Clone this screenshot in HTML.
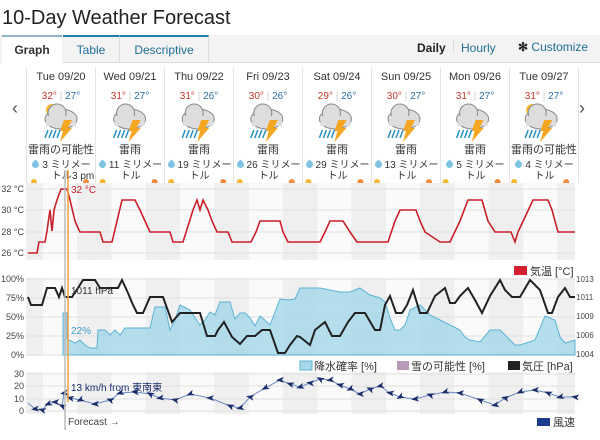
<!DOCTYPE html>
<html><head><meta charset="utf-8"><style>
body{margin:0;width:600px;height:440px;overflow:hidden;background:#fff;font-family:"Liberation Sans","Noto Sans CJK JP",sans-serif;position:relative}
.a{position:absolute}
.col{position:absolute;top:68px;width:68px;height:115px;border-left:1px solid #e4e4e4;text-align:center;font-size:11px;color:#333}
.col .d{margin-top:3px;height:16px}
.col .t{margin-top:4px;font-size:10px}
.hi{color:#c0392b}.lo{color:#2b6ea0}
.col .lb{font-size:11px;position:absolute;top:73px;width:68px;left:0}
.col .pr{font-size:10px;position:absolute;top:92px;left:1px;width:67px;line-height:11px;text-align:center;word-break:break-all}
.drop{display:inline-block;width:7px;height:7px;background:#7ec4e0;border-radius:0 50% 50% 50%;transform:rotate(45deg);margin-right:3px}
</style></head><body>
<div class="a" style="left:2px;top:7px;font-size:20px;color:#222">10-Day Weather Forecast</div>
<div class="a" style="left:0;top:35px;width:600px;height:27px;background:#f3f3f3;border-bottom:1px solid #ddd"></div>
<div class="a" style="left:2px;top:35px;width:60px;height:28px;background:#fff;border-top:2px solid #8fb7c9;font-size:12px;font-weight:bold;color:#333;text-align:center;line-height:26px">Graph</div>
<div class="a" style="left:63px;top:35px;width:56px;height:26px;border-top:2px solid #1f7fa8;font-size:12px;color:#1f6e93;text-align:center;line-height:26px;border-right:1px solid #ddd">Table</div>
<div class="a" style="left:120px;top:35px;width:88px;height:26px;border-top:2px solid #1f7fa8;font-size:12px;color:#1f6e93;text-align:center;line-height:26px;border-right:1px solid #ddd">Descriptive</div>
<div class="a" style="left:417px;top:41px;font-size:12px;font-weight:bold;color:#222">Daily</div>
<div class="a" style="left:453px;top:40px;width:1px;height:14px;background:#ddd"></div>
<div class="a" style="left:461px;top:41px;font-size:12px;color:#1f6e93">Hourly</div>
<div class="a" style="left:518px;top:40px;font-size:12px;color:#1f6e93"><b style="color:#222">✻</b> Customize</div>
<div class="a" style="left:12px;top:98px;font-size:18px;color:#555">‹</div>
<div class="a" style="left:579px;top:98px;font-size:18px;color:#555">›</div>

<div class="col" style="left:26px"><div class="d">Tue 09/20</div><div class="t"><span class="hi">32°</span> <span style="color:#ccc">|</span> <span class="lo">27°</span></div><div class="lb">雷雨の可能性</div><div class="pr"><span class="drop"></span>3 ミリメートル</div></div>
<div class="col" style="left:95px"><div class="d">Wed 09/21</div><div class="t"><span class="hi">31°</span> <span style="color:#ccc">|</span> <span class="lo">27°</span></div><div class="lb">雷雨</div><div class="pr"><span class="drop"></span>11 ミリメートル</div></div>
<div class="col" style="left:164px"><div class="d">Thu 09/22</div><div class="t"><span class="hi">31°</span> <span style="color:#ccc">|</span> <span class="lo">26°</span></div><div class="lb">雷雨</div><div class="pr"><span class="drop"></span>19 ミリメートル</div></div>
<div class="col" style="left:233px"><div class="d">Fri 09/23</div><div class="t"><span class="hi">30°</span> <span style="color:#ccc">|</span> <span class="lo">26°</span></div><div class="lb">雷雨</div><div class="pr"><span class="drop"></span>26 ミリメートル</div></div>
<div class="col" style="left:302px"><div class="d">Sat 09/24</div><div class="t"><span class="hi">29°</span> <span style="color:#ccc">|</span> <span class="lo">26°</span></div><div class="lb">雷雨</div><div class="pr"><span class="drop"></span>29 ミリメートル</div></div>
<div class="col" style="left:371px"><div class="d">Sun 09/25</div><div class="t"><span class="hi">30°</span> <span style="color:#ccc">|</span> <span class="lo">27°</span></div><div class="lb">雷雨</div><div class="pr"><span class="drop"></span>13 ミリメートル</div></div>
<div class="col" style="left:440px"><div class="d">Mon 09/26</div><div class="t"><span class="hi">31°</span> <span style="color:#ccc">|</span> <span class="lo">27°</span></div><div class="lb">雷雨</div><div class="pr"><span class="drop"></span>5 ミリメートル</div></div>
<div class="col" style="left:509px;border-right:1px solid #e4e4e4"><div class="d">Tue 09/27</div><div class="t"><span class="hi">31°</span> <span style="color:#ccc">|</span> <span class="lo">27°</span></div><div class="lb">雷雨の可能性</div><div class="pr"><span class="drop"></span>4 ミリメートル</div></div>

<svg class="a" style="left:0;top:0" width="600" height="440" id="s">
<g id="icons"></g>
<g id="bands"></g>
<g stroke="#e0e0e0" stroke-width="1">
<line x1="26" y1="189" x2="575" y2="189"/><line x1="26" y1="210" x2="575" y2="210"/><line x1="26" y1="232" x2="575" y2="232"/><line x1="26" y1="253" x2="575" y2="253"/>
<line x1="26" y1="279" x2="575" y2="279"/><line x1="26" y1="298" x2="575" y2="298"/><line x1="26" y1="317" x2="575" y2="317"/><line x1="26" y1="336" x2="575" y2="336"/><line x1="26" y1="355" x2="575" y2="355"/>
<line x1="26" y1="374" x2="575" y2="374"/><line x1="26" y1="386" x2="575" y2="386"/><line x1="26" y1="399" x2="575" y2="399"/><line x1="26" y1="411" x2="575" y2="411"/>
</g>
<g font-size="9" fill="#444" text-anchor="end">
<text x="24" y="192">32 °C</text><text x="24" y="213">30 °C</text><text x="24" y="235">28 °C</text><text x="24" y="256">26 °C</text>
<text x="24" y="282">100%</text><text x="24" y="301">75%</text><text x="24" y="320">50%</text><text x="24" y="339">25%</text><text x="24" y="358">0%</text>
<text x="24" y="377">30</text><text x="24" y="389">20</text><text x="24" y="402">10</text><text x="24" y="414">0</text>
</g>
<g font-size="8" fill="#444"><text x="576" y="282">1013</text><text x="576" y="300">1011</text><text x="576" y="319">1009</text><text x="576" y="338">1006</text><text x="576" y="357">1004</text></g>
<polygon fill="#a8d8ea" fill-opacity="0.85" stroke="#5bb3d3" stroke-width="1" points="63,355 63,313 67,313 67,339 75,343 80,340 85,345 90,348 97,348 98,330 105,330 110,335 115,330 120,335 125,328 150,328 155,307 165,307 170,330 175,320 180,305 190,310 200,325 205,320 210,312 215,315 220,302 230,302 235,319 240,313 245,313 250,318 255,326 260,316 265,320 270,325 280,299 288,300 295,299 300,288 320,288 340,292 350,292 360,288 370,295 380,298 385,302 390,318 395,330 400,330 405,325 410,310 420,305 430,315 440,320 450,325 460,330 465,337 470,340 480,342 490,330 500,330 510,340 515,345 520,345 535,340 545,316 550,318 555,320 560,337 565,343 575,340 575,355"/>
<polyline fill="none" stroke="#222" stroke-width="2" points="28,297 31,305 42,305 47,288 55,288 59,297 62,288 65,297 72,297 78,288 83,280 95,280 100,288 110,288 118,288 122,280 128,293 133,305 137,313 143,313 150,297 163,297 172,322 180,313 188,313 200,313 207,336 215,336 218,330 224,322 232,337 240,344 247,336 255,336 262,330 270,330 278,353 285,353 290,345 297,336 300,337 310,345 315,330 325,322 332,336 340,336 348,322 355,313 365,313 375,330 380,330 385,305 390,296 396,313 402,313 407,305 413,290 420,313 427,313 435,296 445,288 450,303 455,303 460,296 468,288 475,300 482,313 490,296 500,280 505,290 512,297 520,297 530,280 540,290 548,313 552,313 558,297 565,288 570,297 575,297"/>
<polyline fill="none" stroke="#c8202a" stroke-width="1.6" points="28,253 37,253 39,242 45,242 47,231 50,210 52,231 54,210 57,200 61,189 67,189 70,200 75,221 78,228 80,232 100,232 103,242 112,242 117,221 122,200 135,200 140,210 145,221 150,232 170,232 173,242 183,242 193,210 197,200 200,210 203,200 208,210 212,221 217,232 228,232 232,242 251,242 256,232 260,221 280,221 283,232 288,242 320,242 325,232 330,221 343,221 350,232 357,242 388,242 395,221 400,210 416,210 420,221 425,232 440,242 450,242 460,221 468,200 482,200 488,221 495,232 511,232 515,242 518,232 533,200 548,200 552,210 558,232 575,232"/>
<polyline id="wl" fill="none" stroke="#6a8ac0" stroke-width="1" points="28,403 35,409 42,410 48,404 55,402 62,406 64,393 70,398 80,400 95,404 110,400 120,393 135,392 150,394 160,398 175,400 190,394 210,398 230,406 240,408 250,397 265,388 280,380 290,384 300,387 310,383 320,379 330,380 340,385 350,389 360,394 370,389 380,386 390,393 400,397 415,399 430,395 445,392 460,393 480,400 495,405 505,398 520,392 535,390 548,393 560,397 575,397"/>
<g id="arr" fill="#1a2d6b"></g>
<line x1="65" y1="170" x2="65" y2="430" stroke="#bbb" stroke-width="1.5"/>
<line x1="68" y1="170" x2="68" y2="402" stroke="#f0a040" stroke-width="1.5"/>
<g font-size="10">
<text x="72" y="179" fill="#333">3 pm</text>
<text x="71" y="193" fill="#c8202a">32 °C</text>
<text x="71" y="294" fill="#333">1011 hPa</text>
<text x="71" y="334" fill="#3a9cc4">22%</text>
<text x="71" y="391" fill="#1a2d6b">13 km/h from 東南東</text>
<text x="68" y="425" fill="#444">Forecast →</text>
</g>
<rect x="514" y="266" width="13" height="9" fill="#d42030"/><text x="530" y="275" font-size="11" fill="#333">気温 [°C]</text>
<rect x="300" y="361" width="12" height="9" fill="#a8d8ea" stroke="#5bb3d3"/><text x="314" y="370" font-size="11" fill="#333">降水確率 [%]</text>
<rect x="397" y="361" width="12" height="9" fill="#b89ab8"/><text x="411" y="370" font-size="11" fill="#333">雪の可能性 [%]</text>
<rect x="508" y="361" width="12" height="9" fill="#222"/><text x="522" y="370" font-size="11" fill="#333">気圧 [hPa]</text>
<rect x="537" y="418" width="13" height="8" fill="#1a3a8a"/><text x="553" y="426" font-size="11" fill="#333">風速</text>
</svg>
<script>
var s="http://www.w3.org/2000/svg",b=document.getElementById('bands');
function r(x,y,w,h,c){var e=document.createElementNS(s,'rect');e.setAttribute('x',x);e.setAttribute('y',y);e.setAttribute('width',w);e.setAttribute('height',h);e.setAttribute('fill',c);b.appendChild(e);}
[[183,77],[278,78],[372,42]].forEach(function(p){r(26,p[0],549,p[1],'#fafafa');for(var k=0;k<8;k++){var x=26+k*68.6;r(x,p[0],17,p[1],'#efefef');r(x+51,p[0],17.6,p[1],'#efefef');}});
var ic=document.getElementById('icons');
for(var k=0;k<8;k++){var cx=26+k*68.6+34;var g='';
if(k==0||k==7)g+='<circle cx="'+(cx-8)+'" cy="110" r="6" fill="#f5b833"/>';
g+='<ellipse cx="'+(cx+1)+'" cy="119" rx="16" ry="10" fill="#ddd" stroke="#888"/><circle cx="'+(cx-3)+'" cy="113" r="9" fill="#ddd" stroke="#888"/><rect x="'+(cx-14)+'" y="116" width="30" height="10" fill="#ddd"/>';
g+='<polygon points="'+(cx+4)+',120 '+(cx+12)+',120 '+(cx+8)+',128 '+(cx+12)+',128 '+(cx)+',142 '+(cx+3)+',131 '+(cx)+',131" fill="#f5a623"/>';
for(var j=0;j<4;j++)g+='<line x1="'+(cx-12+j*4)+'" y1="130" x2="'+(cx-15+j*4)+'" y2="138" stroke="#2b8fc0" stroke-width="1.5"/>';
g+='<circle cx="'+(cx-26)+'" cy="182" r="3" fill="#f5b833"/><circle cx="'+(cx+26)+'" cy="182" r="3" fill="#f08a3c"/>';
ic.innerHTML+=g;}
var pts=document.getElementById('wl').getAttribute('points').trim().split(/\s+/).map(function(p){return p.split(',').map(Number)});
var a=document.getElementById('arr'),h='';
for(var i=1;i<pts.length;i++){var p=pts[i];h+='<polygon points="'+(p[0]-4)+','+(p[1]+3)+' '+(p[0]+4)+','+p[1]+' '+(p[0]-4)+','+(p[1]-3)+' '+(p[0]-2)+','+p[1]+'" transform="rotate('+(150+(i*23)%60)+' '+p[0]+' '+p[1]+')"/>';}
a.innerHTML=h;
</script>
</body></html>
